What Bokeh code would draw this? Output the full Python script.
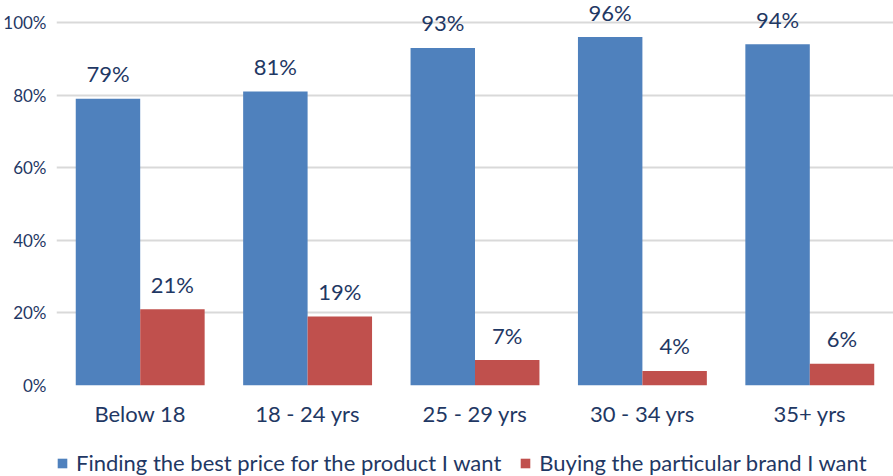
from bokeh.plotting import figure
from bokeh.layouts import column
from bokeh.models import ColumnDataSource, FactorRange, Range1d, FixedTicker, NumeralTickFormatter, Legend, LegendItem
from bokeh.transform import dodge
from bokeh.core.properties import value
from bokeh.embed import file_html
from bokeh.resources import INLINE

categories = ["Below 18", "18 - 24 yrs", "25 - 29 yrs", "30 - 34 yrs", "35+ yrs"]
best_price = [0.79, 0.81, 0.93, 0.96, 0.94]
brand = [0.21, 0.19, 0.07, 0.04, 0.06]
series_names = ["Finding the best price for the product I want", "Buying the particular brand I want"]
y_ticks = [0, 0.2, 0.4, 0.6, 0.8, 1.0]

BLUE = "#4F81BD"
RED = "#C0504D"
TXT = "#1F3864"
FONT = "Lato"
FS = "22px"

src = ColumnDataSource(dict(
    cat=categories,
    best=best_price,
    brand=brand,
    best_lbl=[f"{round(v*100)}%" for v in best_price],
    brand_lbl=[f"{round(v*100)}%" for v in brand],
))

p = figure(width=893, height=446, output_backend="svg", toolbar_location=None,
           x_range=FactorRange(*categories, range_padding=0),
           y_range=Range1d(0, 1.0606),
           min_border_left=55, min_border_right=0, min_border_top=0, min_border_bottom=61)
p.outline_line_color = None
p.background_fill_color = "white"
p.border_fill_color = "white"

w = 0.385
r1 = p.vbar(x=dodge("cat", -w/2, range=p.x_range), top="best", width=w, source=src,
            fill_color=BLUE, line_color=None)
r2 = p.vbar(x=dodge("cat", w/2, range=p.x_range), top="brand", width=w, source=src,
            fill_color=RED, line_color=None)

for col, lbl, off in (("best", "best_lbl", -w/2), ("brand", "brand_lbl", w/2)):
    p.text(x=dodge("cat", off, range=p.x_range), y=col, text=lbl, source=src,
           text_align="center", text_baseline="alphabetic", y_offset=-25,
           text_font=value(FONT), text_font_size=FS, text_color=TXT)

p.yaxis.ticker = FixedTicker(ticks=y_ticks)
p.yaxis.formatter = NumeralTickFormatter(format="0%")
p.ygrid.ticker = FixedTicker(ticks=y_ticks)
p.ygrid.grid_line_color = "#D9D9D9"
p.ygrid.grid_line_width = 2
p.xgrid.grid_line_color = None

for ax in (p.xaxis[0], p.yaxis[0]):
    ax.axis_line_color = None
    ax.major_tick_line_color = None
    ax.minor_tick_line_color = None
    ax.major_label_text_font = FONT
    ax.major_label_text_font_size = FS
    ax.major_label_text_color = TXT
p.yaxis.major_label_text_font_size = "17px"
p.yaxis.major_label_standoff = 4
p.xaxis.major_label_standoff = 8

# legend strip (swatch renderers sit outside the strip's visible range)
lf = figure(width=893, height=30, output_backend="svg", toolbar_location=None,
            x_range=Range1d(0, 1), y_range=Range1d(0, 1),
            x_axis_location=None, y_axis_location=None,
            min_border_left=0, min_border_right=0, min_border_top=0, min_border_bottom=0)
lf.grid.visible = False
lf.outline_line_color = None
lf.border_fill_color = "white"
swatch = ColumnDataSource(dict(l=[-3], r=[-2], t=[-2], b=[-3]))
d1 = lf.quad(left="l", right="r", top="t", bottom="b", source=swatch, fill_color=BLUE, line_color=None)
d2 = lf.quad(left="l", right="r", top="t", bottom="b", source=swatch, fill_color=RED, line_color=None)
legend = Legend(items=[LegendItem(label=series_names[0], renderers=[d1]),
                       LegendItem(label=series_names[1], renderers=[d2])],
                orientation="horizontal", location=(0, 0),
                glyph_width=12, glyph_height=12, label_standoff=8, spacing=18,
                padding=0, margin=0, border_line_color=None, background_fill_alpha=0,
                label_text_font=FONT, label_text_font_size=FS, label_text_color=TXT)
lf.add_layout(legend)

layout = column(p, lf, spacing=0)
open("out.html", "w").write(file_html(layout, INLINE))
